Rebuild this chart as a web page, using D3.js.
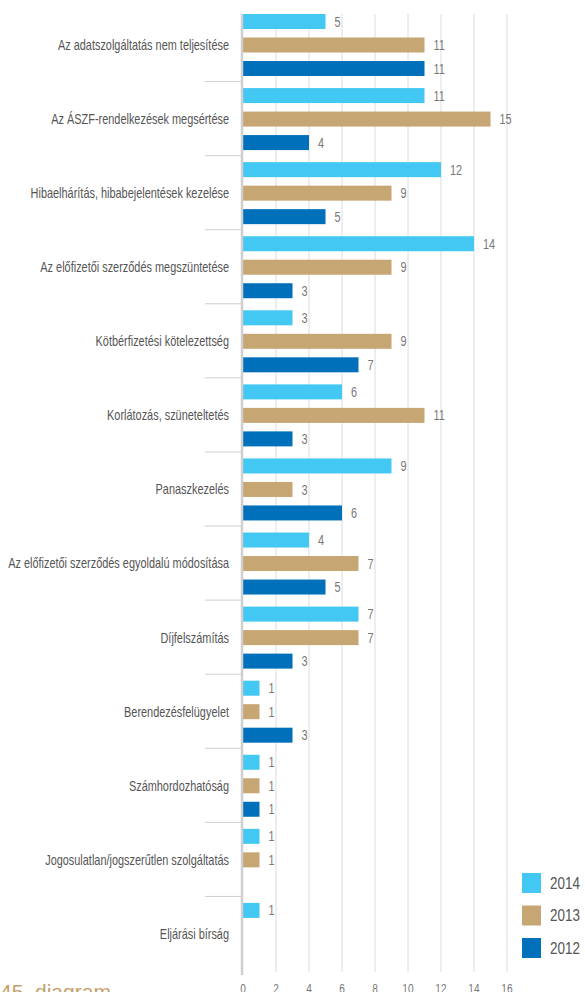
<!DOCTYPE html>
<html lang="hu">
<head>
    <meta charset="UTF-8">
    <title>45. diagram</title>
    <script src="https://cdn.jsdelivr.net/npm/d3@7"></script>
    <style>
        body { margin: 0; background: #fff; }
        svg text { font-family: "Liberation Sans", Arial, sans-serif; }
    </style>
</head>
<body>
<svg width="585" height="992"></svg>

<script>
    var categories = [
        'Az adatszolgáltatás nem teljesítése',
        'Az ÁSZF-rendelkezések megsértése',
        'Hibaelhárítás, hibabejelentések kezelése',
        'Az előfizetői szerződés megszüntetése',
        'Kötbérfizetési kötelezettség',
        'Korlátozás, szüneteltetés',
        'Panaszkezelés',
        'Az előfizetői szerződés egyoldalú módosítása',
        'Díjfelszámítás',
        'Berendezésfelügyelet',
        'Számhordozhatóság',
        'Jogosulatlan/jogszerűtlen szolgáltatás',
        'Eljárási bírság'
    ]
    var series = ['2014', '2013', '2012']
    var values2014 = [5, 11, 12, 14, 3, 6, 9, 4, 7, 1, 1, 1, 1]
    var values2013 = [11, 15, 9, 9, 9, 11, 3, 7, 7, 1, 1, 1, null]
    var values2012 = [11, 4, 5, 3, 7, 3, 6, 5, 3, 3, 1, null, null]
    var xTicks = [0, 2, 4, 6, 8, 10, 12, 14, 16]
    var colors = ['#42c8f3', '#c6a673', '#0070ba']

    var svg = d3.select('svg')
    var valuesBySeries = [values2014, values2013, values2012]

    var x = d3.scaleLinear().domain([0, 16]).range([243, 507])
    var y = d3.scaleBand().domain(categories).range([7, 970])
    var sub = d3.scalePoint().domain(series).range([7, 54])
    var barH = 15
    var narrow = 0.78  // squeeze text to look like a condensed face

    // gridlines
    svg.append('g')
        .selectAll('line')
        .data(xTicks.slice(1))
        .join('line')
        .attr('x1', d => x(d)).attr('x2', d => x(d))
        .attr('y1', 14).attr('y2', 972)
        .attr('stroke', '#dcdcdc')
        .attr('stroke-width', 1)

    // category separators
    svg.append('g')
        .selectAll('line')
        .data(categories.slice(1))
        .join('line')
        .attr('x1', 205).attr('x2', 242)
        .attr('y1', d => y(d) + 0.5).attr('y2', d => y(d) + 0.5)
        .attr('stroke', '#cfcfcf')
        .attr('stroke-width', 1)

    // bars
    series.forEach((s, i) => {
        var vals = valuesBySeries[i]
        var g = svg.append('g')
        var rows = categories.map((c, j) => ({ c, v: vals[j] })).filter(d => d.v != null)
        g.selectAll('rect')
            .data(rows)
            .join('rect')
            .attr('x', x(0))
            .attr('y', d => y(d.c) + sub(s))
            .attr('width', d => x(d.v) - x(0))
            .attr('height', barH)
            .attr('fill', colors[i])
        g.selectAll('text')
            .data(rows)
            .join('text')
            .attr('transform', d => `translate(${x(d.v) + 9},${y(d.c) + sub(s) + barH / 2}) scale(${narrow},1)`)
            .attr('dy', '0.36em')
            .attr('font-size', 14)
            .attr('fill', '#777')
            .text(d => d.v)
    })

    // axis line
    svg.append('line')
        .attr('x1', x(0) - 1).attr('x2', x(0) - 1)
        .attr('y1', 14).attr('y2', 975)
        .attr('stroke', '#cfcfcf')
        .attr('stroke-width', 2.5)

    // category labels
    svg.append('g')
        .selectAll('text')
        .data(categories)
        .join('text')
        .attr('transform', d => `translate(229,${y(d) + y.bandwidth() / 2 + 1}) scale(${narrow},1)`)
        .attr('dy', '0.35em')
        .attr('text-anchor', 'end')
        .attr('font-size', 14)
        .attr('fill', '#555')
        .text(d => d)

    // x tick labels
    svg.append('g')
        .selectAll('text')
        .data(xTicks)
        .join('text')
        .attr('transform', d => `translate(${x(d)},993) scale(${narrow},1)`)
        .attr('text-anchor', 'middle')
        .attr('font-size', 13)
        .attr('fill', '#777')
        .text(d => d)

    // legend
    var legend = svg.append('g')
    series.forEach((s, i) => {
        legend.append('rect')
            .attr('x', 522).attr('y', 873 + i * 32.5)
            .attr('width', 19).attr('height', 20)
            .attr('fill', colors[i])
        legend.append('text')
            .attr('transform', `translate(550,${883 + i * 32.5}) scale(0.84,1)`)
            .attr('dy', '0.36em')
            .attr('font-size', 16)
            .attr('fill', '#555')
            .text(s)
    })

    svg.append('text')
        .attr('x', 0).attr('y', 999)
        .attr('font-size', 21)
        .attr('fill', '#c4a06a')
        .text('45. diagram')
</script>
</body>
</html>
